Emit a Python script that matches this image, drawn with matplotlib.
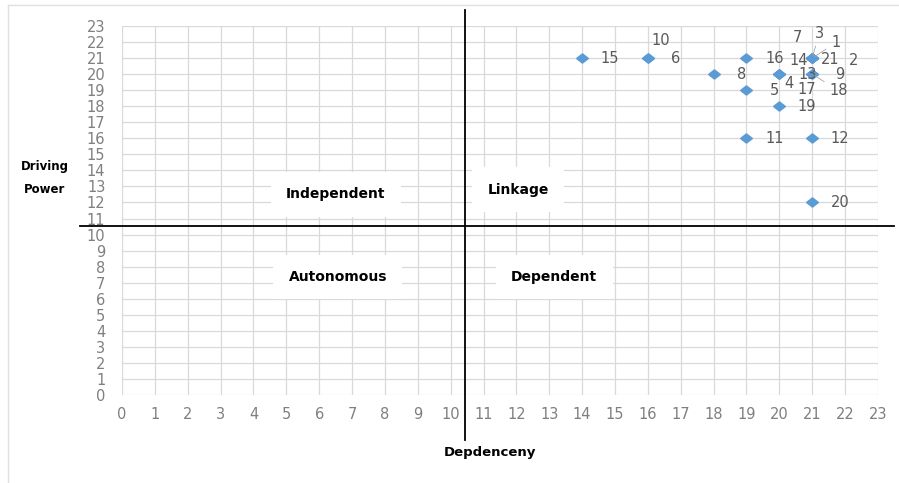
import matplotlib
matplotlib.use('Agg')
import matplotlib.pyplot as plt
from matplotlib.lines import Line2D

# MICMAC data: element number, dependence power, driving power
elements = [1, 2, 3, 4, 5, 6, 7, 8, 9, 10, 11, 12, 13, 14, 15, 16, 17, 18, 19, 20, 21]
dependence = [21, 21, 21, 20, 19, 16, 21, 18, 21, 16, 19, 21, 20, 21, 14, 19, 20, 21, 20, 21, 21]
driving = [21, 21, 21, 20, 19, 21, 21, 20, 20, 21, 16, 16, 20, 21, 21, 21, 20, 20, 18, 12, 21]

quadrants = ['Independent', 'Linkage', 'Autonomous', 'Dependent']
ticks = list(range(0, 24))

# label offsets in points (dx, dy), default is right of the marker
label_offset = {1: (17, 11), 2: (30, -2), 3: (5, 18), 4: (7, -7), 7: (-11, 15),
                10: (9, 13), 14: (-10, -2), 17: (20, -11), 18: (19, -12), 21: (13, -1)}
leaders = [1, 3, 4, 18]

grey = '#595959'
blue = '#5B9BD5'
# slightly flattened diamond, like the spreadsheet marker
diamond = [(-1, 0), (0, 0.78), (1, 0), (0, -0.78), (-1, 0)]

fig = plt.figure(figsize=(8.99, 4.83), dpi=100)
ax = fig.add_axes([0.1357, 0.1822, 0.8409, 0.764])

ax.set_xlim(0, 23)
ax.set_ylim(0, 23)
ax.set_xticks(ticks)
ax.set_yticks(ticks)
ax.grid(True, color='#d9d9d9', lw=0.9)
ax.set_axisbelow(True)
for s in ax.spines.values():
    s.set_visible(False)
ax.tick_params(length=0, labelsize=10.5, labelcolor='#7f7f7f')
ax.tick_params(axis='x', pad=9)
ax.tick_params(axis='y', pad=12)

ax.plot(dependence, driving, ls='none', marker=diamond, color=blue, ms=8.5,
        mec=blue, zorder=3)

for n, x, y in zip(elements, dependence, driving):
    dx, dy = label_offset.get(n, (20, 0))
    arrow = dict(arrowstyle='-', color='#a6a6a6', lw=0.6) if n in leaders else None
    ax.annotate(str(n), (x, y), xytext=(dx, dy), textcoords='offset points',
                ha='center', va='center', fontsize=10.5, color=grey,
                arrowprops=arrow, zorder=4)

# quadrant dividers
ax.plot([10.43, 10.43], [24.0, -2.8], color='black', lw=1.3, clip_on=False, zorder=5)
ax.plot([-1.28, 23.5], [10.54, 10.54], color='black', lw=1.3, clip_on=False, zorder=5)

quad_pos = [(6.5, 12.5), (12.05, 12.8), (6.57, 7.36), (13.15, 7.36)]
for name, (qx, qy) in zip(quadrants, quad_pos):
    ax.text(qx, qy, name, ha='center', va='center', fontsize=10, fontweight='bold',
            color='black', zorder=2,
            bbox=dict(boxstyle='square,pad=1.1', fc='white', ec='none'))

fig.text(0.05, 0.632, 'Driving\nPower', ha='center', va='center', fontsize=8.5,
         fontweight='bold', linespacing=2.0)
fig.text(0.545, 0.064, 'Depdenceny', ha='center', va='center', fontsize=9.5,
         fontweight='bold')

# faint outer frame
fig.add_artist(Line2D([0.009, 1.0], [0.99, 0.99], color='#e0e0e0', lw=1))
fig.add_artist(Line2D([0.009, 0.009], [0.0, 0.99], color='#e0e0e0', lw=1))

fig.savefig('out.png', dpi=100)
